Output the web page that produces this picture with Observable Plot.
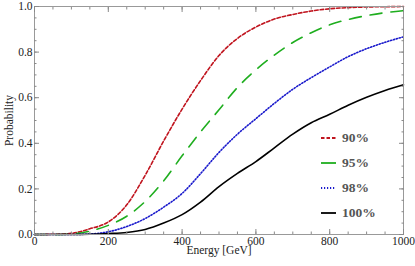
<!DOCTYPE html>
<html><head><meta charset="utf-8">
<script src="https://cdn.jsdelivr.net/npm/d3@7"></script>
<script src="https://cdn.jsdelivr.net/npm/@observablehq/plot@0.6"></script>
<style>
body{margin:0;background:#fff}
#wrap{position:relative;width:415px;height:266px}
#legend{position:absolute;left:321px;top:125.5px;font:bold 13.5px 'Liberation Serif','Times New Roman',serif;color:#555}
#legend .row{display:flex;align-items:center;height:25px}
#legend svg{margin-right:6px}
</style></head>
<body><div id="wrap"><div id="chart"></div><div id="legend"></div></div>
<script>
const energy = [0,50,100,150,200,250,300,350,400,450,500,550,600,650,700,750,800,850,900,950,1000];
const p90  = [0,0.001,0.005,0.025,0.055,0.13,0.26,0.41,0.55,0.675,0.785,0.86,0.91,0.945,0.965,0.98,0.99,0.995,0.998,0.999,1.0];
const p95  = [0,0,0.002,0.015,0.04,0.08,0.145,0.235,0.345,0.45,0.547,0.645,0.722,0.787,0.842,0.885,0.92,0.943,0.96,0.973,0.982];
const p98  = [0,0,0,0.002,0.012,0.035,0.07,0.12,0.18,0.267,0.36,0.44,0.508,0.575,0.637,0.688,0.735,0.78,0.815,0.843,0.867];
const p100 = [0,0,0,0.001,0.004,0.009,0.022,0.05,0.087,0.142,0.21,0.268,0.32,0.38,0.44,0.49,0.527,0.567,0.602,0.632,0.657];
const seriesNames = ["90%","95%","98%","100%"];
const seriesValues = [p90,p95,p98,p100];
const seriesColors = ["#c0141e","#1fae1f","#1a1acc","#000000"];
const seriesDash = ["3.5,2","12,9","1.2,1.8",null];
const xMajor = [0,200,400,600,800,1000];
const xMinor = d3.range(0,1001,50);
const yMajor = [0,0.2,0.4,0.6,0.8,1.0];
const yMinor = d3.range(0,1.0001,0.05);

const font = "'Liberation Serif', 'Times New Roman', serif";
const tickColor = "#8a8a8a";

const lines = seriesNames.map((name,i) => Plot.line(
  energy.map((e,j)=>({e, p: seriesValues[i][j]})),
  {x:"e", y:"p", stroke: seriesColors[i], strokeWidth:1.6, strokeDasharray: seriesDash[i], curve:"monotone-x"}
));

const noText = {fill:"none", label:null, stroke:tickColor};

const chart = Plot.plot({
  width:415, height:266,
  marginLeft:34, marginRight:12, marginTop:6, marginBottom:32,
  style:{fontFamily:font, fontSize:"11.5px", color:"#222", background:"#fff"},
  x:{domain:[0,1000]},
  y:{domain:[0,1]},
  marks:[
    ...lines,
    Plot.frame({stroke:"#999"}),
    Plot.axisX({ticks:xMinor, tickSize:-2.5, ...noText}),
    Plot.axisX({anchor:"top", ticks:xMinor, tickSize:-2.5, ...noText}),
    Plot.axisX({anchor:"top", ticks:xMajor, tickSize:-5, ...noText}),
    Plot.axisX({ticks:xMajor, tickSize:-5, tickPadding:7, tickFormat:d3.format("d"), stroke:tickColor, fill:"#222", label:"Energy [GeV]", labelAnchor:"center", labelArrow:"none", labelOffset:19}),
    Plot.axisY({ticks:yMinor, tickSize:-2.5, ...noText}),
    Plot.axisY({anchor:"right", ticks:yMinor, tickSize:-2.5, ...noText}),
    Plot.axisY({anchor:"right", ticks:yMajor, tickSize:-5, ...noText}),
    Plot.axisY({ticks:yMajor, tickSize:-5, tickPadding:7, tickFormat:d3.format(".1f"), stroke:tickColor, fill:"#222", label:"Probability", labelAnchor:"center", labelArrow:"none", labelOffset:30})
  ]
});
document.getElementById("chart").append(chart);

const legend = document.getElementById("legend");
seriesNames.forEach((name,i)=>{
  const row = document.createElement("div");
  row.className="row";
  const dash = i===1 ? "" : (seriesDash[i] ? `stroke-dasharray="${seriesDash[i]}"` : "");
  row.innerHTML = `<svg width="15" height="6"><line x1="0" x2="15" y1="3" y2="3" stroke="${seriesColors[i]}" stroke-width="1.8" ${dash}/></svg><span>${name}</span>`;
  legend.append(row);
});
</script>
</body></html>
